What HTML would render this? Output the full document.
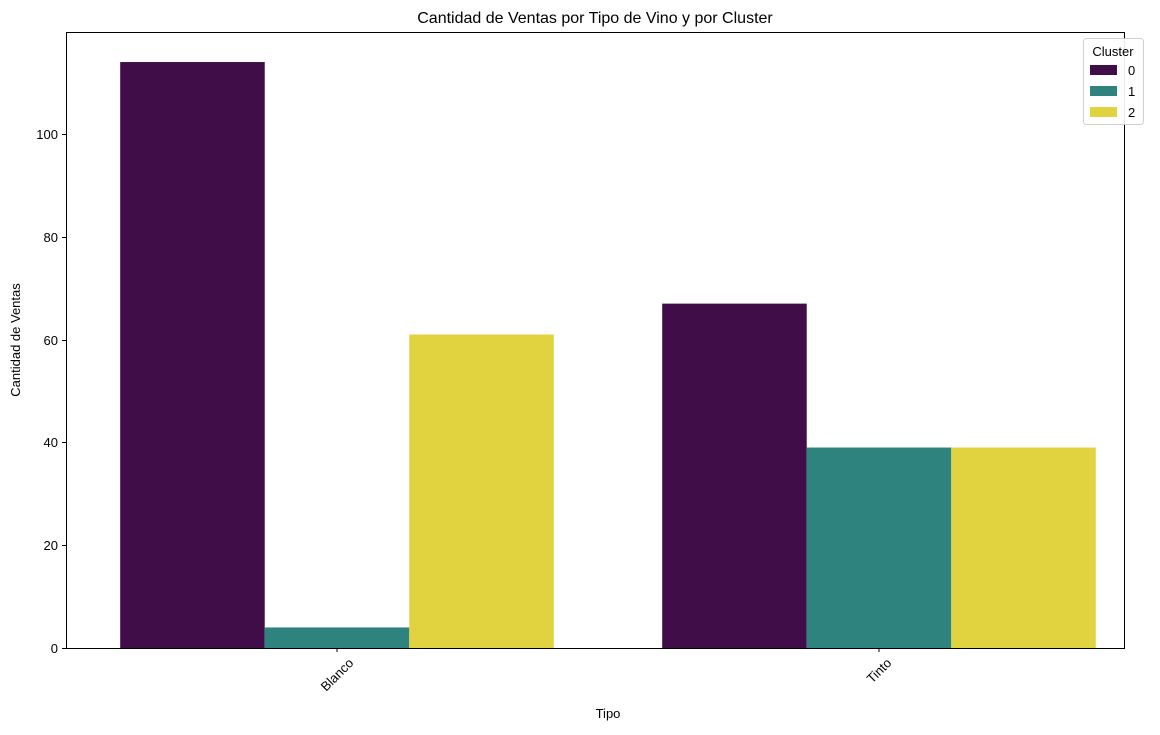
<!DOCTYPE html>
<html><head><meta charset="utf-8"><style>
body{margin:0;background:#fff;}
svg text{font-family:"Liberation Sans",sans-serif;}
</style></head><body>
<svg id="chart" width="1160" height="730" xmlns="http://www.w3.org/2000/svg">
<text x="595" y="23" font-size="16" text-anchor="middle">Cantidad de Ventas por Tipo de Vino y por Cluster</text>
<g id="bars"></g>
<g id="axes"></g>
<text x="608" y="718" font-size="13" text-anchor="middle">Tipo</text>
<text transform="translate(20,340) rotate(-90)" font-size="13" text-anchor="middle">Cantidad de Ventas</text>
<g>
<rect x="1083.5" y="38.5" width="60" height="86" rx="3" fill="#fff" stroke="#ccc" opacity="0.9"/>
<text x="1113" y="56" font-size="13" text-anchor="middle">Cluster</text>
<g id="legend-items"></g>
</g>
</svg>
<script>
const categories = ["Blanco","Tinto"];
const cluster0 = [114, 67];
const cluster1 = [4, 39];
const cluster2 = [61, 39];
const yTicks = [0,20,40,60,80,100];
const clusterLabels = ["0","1","2"];
const colors = ["#400d48","#2e837e","#e1d33f"];
const series = [cluster0, cluster1, cluster2];
const NS = "http://www.w3.org/2000/svg";
const L=66,R=1124,T=32,B=648;
function y(v){return B - v*5.14;}
function xc(i){return 337 + 542*i;}
const groupW = 433.6, barW = groupW/3;
const bars = document.getElementById('bars');
series.forEach((s,k)=>{
  s.forEach((v,i)=>{
    const r=document.createElementNS(NS,'rect');
    r.setAttribute('x', xc(i)-groupW/2 + k*barW);
    r.setAttribute('y', y(v));
    r.setAttribute('width', barW);
    r.setAttribute('height', B - y(v));
    r.setAttribute('fill', colors[k]);
    
    
    bars.appendChild(r);
  });
});
const axes = document.getElementById('axes');
let h='<rect x="'+(L+0.5)+'" y="'+(T+0.5)+'" width="'+(R-L)+'" height="'+(B-T)+'" fill="none" stroke="#000" stroke-width="1"/>';
yTicks.forEach(t=>{
  const yy=Math.round(y(t))+0.5;
  h+='<line x1="'+(L-4)+'" x2="'+L+'" y1="'+yy+'" y2="'+yy+'" stroke="#000"/>';
  h+='<text x="'+(L-8)+'" y="'+(yy+4.5)+'" font-size="13" text-anchor="end">'+t+'</text>';
});
categories.forEach((c,i)=>{
  const xx=xc(i);
  h+='<line x1="'+xx+'" x2="'+xx+'" y1="'+B+'" y2="'+(B+4)+'" stroke="#000"/>';
  h+='<text class="xlab" data-x="'+xx+'" font-size="13" text-anchor="middle" dominant-baseline="central">'+c+'</text>';
});
axes.innerHTML=h;


axes.querySelectorAll('.xlab').forEach(t=>{
  const w=t.getComputedTextLength();
  const bh=(w+13)*0.7071;
  const cx=+t.getAttribute('data-x');
  const cy=B+8+bh/2;
  t.setAttribute('transform','translate('+cx+','+cy+') rotate(-45)');
});
const li=document.getElementById('legend-items');
clusterLabels.forEach((lab,k)=>{
  const g=document.createElementNS(NS,'g');
  
  
  const yy=65+k*21;
  g.innerHTML='<rect x="1090" y="'+yy+'" width="27" height="10" fill="'+colors[k]+'"/><text x="1128" y="'+(yy+10)+'" font-size="13">'+lab+'</text>';
  li.appendChild(g);
});
</script>
</body></html>
